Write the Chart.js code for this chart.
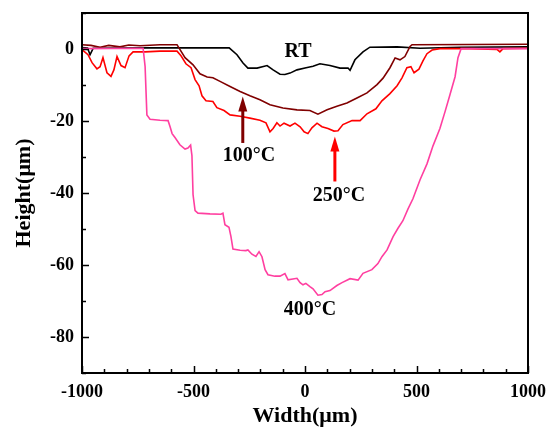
<!DOCTYPE html>
<html>
<head>
<meta charset="utf-8">
<script src="https://cdn.jsdelivr.net/npm/chart.js@4"></script>
<style>
html,body{margin:0;padding:0;background:#fff;}
canvas{display:block;}
</style>
</head>
<body>
<canvas id="c" width="554" height="427" style="width:554px;height:427px"></canvas>
<script>
// ---- data (Width in µm, Height in µm) ----
const rtX  = [-1000,-975,-964,-950,-700,-340,-305,-278,-256,-215,-170,-143,-112,-90,-67,-36,0,36,67,112,157,193,202,224,260,291,413,516,700,1000];
const rtY  = [0.4,0.3,-1.6,0.2,0.3,0.3,-1.6,-3.9,-5.3,-5.3,-4.6,-5.8,-7.0,-7.1,-6.7,-5.8,-5.3,-4.8,-4.1,-4.6,-5.3,-5.3,-5.9,-3.0,-0.8,0.5,0.6,0.2,0.5,0.6];

const t100X = [-1000,-960,-919,-880,-830,-790,-740,-650,-574,-538,-502,-471,-439,-413,-381,-336,-291,-247,-202,-157,-99,-36,22,58,99,143,188,233,278,323,350,381,404,426,448,471,480,1000];
const t100Y = [1.2,1.0,0.5,1.0,0.6,1.1,0.9,1.2,1.2,-2.4,-4.4,-6.9,-7.8,-8.0,-9.0,-10.4,-11.8,-13.0,-14.1,-15.5,-16.4,-16.9,-17.1,-18.1,-16.9,-15.9,-15.0,-13.6,-12.2,-9.9,-8.1,-5.2,-2.5,-3.0,-2.1,0.7,1.2,1.3];

const t250X = [-1000,-973,-955,-933,-919,-906,-888,-870,-857,-843,-825,-807,-789,-771,-717,-650,-574,-556,-534,-511,-493,-475,-462,-444,-413,-395,-363,-336,-291,-247,-202,-175,-157,-143,-126,-112,-94,-67,-45,-22,-4,13,31,54,76,103,130,148,170,211,247,278,318,345,381,413,435,457,475,489,511,529,547,570,605,740,861,874,888,1000];
const t250Y = [-0.2,-1.6,-3.8,-5.5,-4.9,-2.4,-6.6,-7.6,-5.8,-2.1,-4.6,-5.2,-1.9,-0.8,-0.8,-0.6,-0.6,-1.9,-4.1,-5.2,-8.5,-10.2,-13.0,-14.4,-14.6,-16.3,-17.1,-18.3,-18.7,-19.2,-19.8,-20.5,-23.0,-22.1,-20.5,-21.4,-20.6,-21.4,-20.6,-21.6,-23.0,-23.5,-21.9,-20.6,-21.6,-22.1,-22.8,-22.7,-21.0,-19.9,-19.9,-18.0,-16.6,-14.4,-12.4,-10.2,-8.0,-5.2,-4.9,-6.6,-5.6,-3.3,-1.3,-0.3,0.1,0.1,-0.1,-0.8,0.1,0.2];

const t400X = [-1000,-726,-717,-709,-695,-650,-614,-605,-596,-583,-561,-538,-525,-513,-507,-502,-493,-480,-426,-377,-368,-359,-341,-332,-323,-291,-265,-256,-238,-220,-206,-193,-179,-166,-135,-112,-90,-76,-36,-22,-9,4,22,36,58,76,90,112,143,166,202,238,260,300,327,345,368,395,417,439,462,484,516,547,574,605,628,650,673,686,700,1000];
const t400Y = [0.1,0.2,-4.9,-18.3,-19.5,-19.8,-19.9,-21.6,-23.5,-24.6,-26.6,-27.8,-27.5,-26.7,-29.6,-40.5,-44.9,-45.6,-45.8,-45.9,-45.6,-48.8,-49.5,-52.1,-55.6,-55.9,-56.0,-55.8,-57.0,-57.6,-56.3,-57.7,-61.3,-62.7,-63.1,-63.1,-62.4,-64.1,-63.7,-64.9,-65.5,-65.1,-66.0,-66.6,-68.4,-68.2,-67.4,-67.1,-65.7,-64.9,-63.8,-64.2,-62.3,-61.3,-59.6,-57.7,-55.8,-52.1,-49.8,-47.7,-44.4,-41.6,-36.3,-31.9,-26.9,-22.1,-17.4,-12.7,-7.7,-2.4,0.1,0.1];

const seriesNames  = ['RT','100°C','250°C','400°C'];
const xTicks = [-1000,-500,0,500,1000];
const yTicks = [-80,-60,-40,-20,0];

// annotation labels (data coordinates)
const annTexts = ['RT','100°C','250°C','400°C'];
const annX = [-31,-251,152,22];
const annY = [-0.7,-29.6,-40.8,-72.4];
// arrows: x, tip y, tail y
const arrowX = [-279,134];
const arrowTipY = [-13.2,-24.3];
const arrowTailY = [-26.1,-36.8];

// ---- styles ----
const colors = ['#000000','#800000','#ff0000','#ff3fa0'];
const arrowColors = ['#800000','#ff0000'];
const FONT = "'Liberation Serif','Times New Roman',serif";

function pts(xs, ys){ return xs.map((x,i)=>({x:x, y:ys[i]})); }

const framePlugin = {
  id:'frame',
  afterDatasetsDraw(chart){
    const {ctx, chartArea:a, scales:{x, y}} = chart;
    ctx.save();
    ctx.strokeStyle = '#000';
    ctx.lineWidth = 2;
    ctx.strokeRect(a.left, a.top, a.right-a.left, a.bottom-a.top);
    ctx.lineWidth = 1.5;
    ctx.beginPath();
    for (let v = -1000; v <= 1000; v += 100) {
      const px = Math.round(x.getPixelForValue(v)) + 0.5;
      const len = (v % 500 === 0) ? 7 : 4;
      ctx.moveTo(px, a.bottom); ctx.lineTo(px, a.bottom - len);
    }
    for (let v = -90; v <= 10; v += 10) {
      const py = Math.round(y.getPixelForValue(v)) + 0.5;
      const len = (v % 20 === 0) ? 7 : 4;
      ctx.moveTo(a.left, py); ctx.lineTo(a.left + len, py);
    }
    ctx.stroke();
    ctx.restore();
  }
};

const annPlugin = {
  id:'ann',
  afterDatasetsDraw(chart){
    const {ctx, scales:{x, y}} = chart;
    ctx.save();
    arrowX.forEach((ax,i)=>{
      const px = x.getPixelForValue(ax);
      const tip = y.getPixelForValue(arrowTipY[i]);
      const tail = y.getPixelForValue(arrowTailY[i]);
      ctx.strokeStyle = arrowColors[i];
      ctx.fillStyle = arrowColors[i];
      ctx.lineWidth = 3;
      ctx.beginPath(); ctx.moveTo(px, tail); ctx.lineTo(px, tip + 12); ctx.stroke();
      ctx.beginPath();
      ctx.moveTo(px, tip);
      ctx.lineTo(px - 4.5, tip + 15);
      ctx.lineTo(px + 4.5, tip + 15);
      ctx.closePath(); ctx.fill();
    });
    ctx.fillStyle = '#000';
    ctx.font = "bold 20px " + FONT;
    ctx.textAlign = 'center';
    ctx.textBaseline = 'middle';
    annTexts.forEach((t,i)=>{
      ctx.fillText(t, x.getPixelForValue(annX[i]), y.getPixelForValue(annY[i]));
    });
    ctx.restore();
  }
};

new Chart(document.getElementById('c'), {
  type:'scatter',
  data:{
    datasets:[
      {label:seriesNames[3], data:pts(t400X,t400Y), borderColor:colors[3]},
      {label:seriesNames[2], data:pts(t250X,t250Y), borderColor:colors[2]},
      {label:seriesNames[1], data:pts(t100X,t100Y), borderColor:colors[1]},
      {label:seriesNames[0], data:pts(rtX,rtY), borderColor:colors[0]}
    ].map(d=>Object.assign(d,{showLine:true, pointRadius:0, borderWidth:1.6, fill:false, tension:0}))
  },
  options:{
    responsive:false,
    animation:false,
    layout:{padding:{left:0,right:26,top:13,bottom:0}},
    plugins:{legend:{display:false}, tooltip:{enabled:false}},
    scales:{
      x:{
        type:'linear', min:-1000, max:1000,
        afterBuildTicks:(a)=>{ a.ticks = xTicks.map(v=>({value:v})); },
        afterFit:(a)=>{ a.height = 54; a.paddingLeft = 0; a.paddingRight = 0; },
        grid:{display:false, drawTicks:false},
        border:{display:false},
        ticks:{callback:(v)=>String(v), color:'#000', padding:9, maxRotation:0, autoSkip:false,
               font:{family:FONT, size:18, weight:'bold'}},
        title:{display:true, text:'Width(μm)', color:'#000', padding:{top:0,bottom:0},
               font:{family:FONT, size:22, weight:'bold', lineHeight:1}}
      },
      y:{
        type:'linear', min:-90, max:10,
        afterBuildTicks:(a)=>{ a.ticks = yTicks.map(v=>({value:v})); },
        afterFit:(a)=>{ a.width = 82; a.paddingTop = 0; a.paddingBottom = 0; },
        grid:{display:false, drawTicks:false},
        border:{display:false},
        ticks:{callback:(v)=>String(v), color:'#000', padding:8, autoSkip:false,
               font:{family:FONT, size:18, weight:'bold'}},
        title:{display:true, text:'Height(μm)', color:'#000', padding:{top:13,bottom:0},
               font:{family:FONT, size:22, weight:'bold', lineHeight:1}}
      }
    }
  },
  plugins:[framePlugin, annPlugin]
});
</script>
</body>
</html>
